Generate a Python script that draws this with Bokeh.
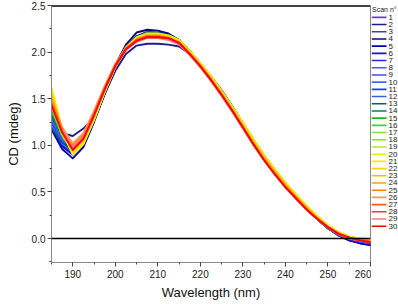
from bokeh.plotting import figure
from bokeh.models import Range1d, SingleIntervalTicker, Span, NumeralTickFormatter, ColumnDataSource
from bokeh.layouts import row
from bokeh.core.properties import value
from bokeh.embed import file_html
from bokeh.resources import INLINE

FONT = "Liberation Sans"

# wavelength grid (nm)
wavelength = [185, 187.5, 190, 192.5, 195, 197.5, 200, 202.5, 205, 207.5, 210,
              212.5, 215, 217.5, 220, 222.5, 225, 227.5, 230, 232.5, 235, 237.5,
              240, 242.5, 245, 247.5, 250, 252.5, 255, 257.5, 260]

# CD signal (mdeg) for each successive scan
scan_01 = [1.20, 1.06, 0.98, 1.08, 1.31, 1.58, 1.84, 2.03, 2.13, 2.17, 2.17, 2.15, 2.10, 1.99, 1.86, 1.72, 1.56, 1.39, 1.21, 1.03, 0.86, 0.71, 0.57, 0.44, 0.32, 0.21, 0.12, 0.05, 0.00, -0.03, -0.05]
scan_02 = [1.22, 1.13, 1.10, 1.18, 1.30, 1.55, 1.80, 1.98, 2.07, 2.09, 2.09, 2.08, 2.06, 1.98, 1.86, 1.72, 1.57, 1.41, 1.23, 1.05, 0.88, 0.72, 0.58, 0.45, 0.33, 0.22, 0.12, 0.04, -0.01, -0.04, -0.06]
scan_03 = [1.25, 1.05, 0.95, 1.05, 1.30, 1.58, 1.85, 2.05, 2.17, 2.22, 2.21, 2.19, 2.13, 2.00, 1.87, 1.72, 1.56, 1.39, 1.21, 1.04, 0.87, 0.71, 0.57, 0.44, 0.32, 0.21, 0.11, 0.04, 0.00, -0.03, -0.05]
scan_04 = [1.18, 1.00, 0.93, 1.03, 1.29, 1.58, 1.86, 2.08, 2.21, 2.24, 2.23, 2.20, 2.13, 2.00, 1.86, 1.72, 1.56, 1.39, 1.21, 1.03, 0.86, 0.71, 0.57, 0.44, 0.32, 0.21, 0.11, 0.03, -0.02, -0.05, -0.07]
scan_05 = [1.17, 0.96, 0.86, 0.98, 1.25, 1.55, 1.84, 2.05, 2.17, 2.20, 2.20, 2.18, 2.13, 2.01, 1.88, 1.74, 1.59, 1.42, 1.24, 1.06, 0.89, 0.74, 0.59, 0.46, 0.33, 0.22, 0.12, 0.04, -0.02, -0.05, -0.07]
scan_06 = [1.20, 0.99, 0.90, 1.01, 1.27, 1.56, 1.84, 2.04, 2.15, 2.19, 2.19, 2.17, 2.12, 2.00, 1.87, 1.73, 1.57, 1.40, 1.22, 1.04, 0.87, 0.72, 0.58, 0.45, 0.32, 0.21, 0.11, 0.04, -0.01, -0.04, -0.06]
scan_07 = [1.24, 1.02, 0.92, 1.03, 1.29, 1.58, 1.85, 2.04, 2.14, 2.18, 2.18, 2.16, 2.11, 1.99, 1.86, 1.72, 1.56, 1.39, 1.21, 1.03, 0.86, 0.71, 0.57, 0.44, 0.32, 0.21, 0.11, 0.04, 0.00, -0.03, -0.05]
scan_08 = [1.28, 1.05, 0.94, 1.05, 1.30, 1.59, 1.85, 2.04, 2.13, 2.17, 2.17, 2.15, 2.10, 1.98, 1.85, 1.71, 1.55, 1.38, 1.20, 1.02, 0.85, 0.70, 0.56, 0.44, 0.32, 0.21, 0.11, 0.04, 0.00, -0.03, -0.05]
scan_09 = [1.30, 1.06, 0.95, 1.06, 1.31, 1.59, 1.85, 2.04, 2.14, 2.18, 2.18, 2.16, 2.11, 1.99, 1.85, 1.71, 1.55, 1.38, 1.20, 1.02, 0.85, 0.70, 0.56, 0.44, 0.32, 0.21, 0.11, 0.04, 0.00, -0.03, -0.05]
scan_10 = [1.22, 1.02, 0.93, 1.04, 1.30, 1.59, 1.85, 2.04, 2.13, 2.17, 2.17, 2.15, 2.10, 1.98, 1.85, 1.70, 1.54, 1.37, 1.19, 1.01, 0.84, 0.69, 0.55, 0.43, 0.31, 0.21, 0.11, 0.05, 0.00, -0.02, -0.04]
scan_11 = [1.25, 1.04, 0.94, 1.05, 1.30, 1.59, 1.85, 2.04, 2.14, 2.18, 2.18, 2.16, 2.11, 1.99, 1.85, 1.71, 1.55, 1.38, 1.20, 1.02, 0.85, 0.70, 0.56, 0.43, 0.31, 0.21, 0.11, 0.04, 0.00, -0.03, -0.05]
scan_12 = [1.27, 1.05, 0.95, 1.06, 1.31, 1.59, 1.85, 2.03, 2.13, 2.17, 2.17, 2.15, 2.10, 1.98, 1.85, 1.71, 1.55, 1.38, 1.20, 1.02, 0.85, 0.70, 0.56, 0.43, 0.31, 0.21, 0.11, 0.04, 0.00, -0.03, -0.05]
scan_13 = [1.18, 1.03, 0.96, 1.06, 1.31, 1.59, 1.85, 2.04, 2.14, 2.18, 2.18, 2.16, 2.11, 1.99, 1.85, 1.71, 1.55, 1.38, 1.20, 1.02, 0.85, 0.70, 0.56, 0.43, 0.31, 0.21, 0.12, 0.05, 0.01, -0.02, -0.04]
scan_14 = [1.33, 1.10, 0.97, 1.07, 1.31, 1.59, 1.85, 2.04, 2.15, 2.19, 2.19, 2.17, 2.12, 2.00, 1.86, 1.72, 1.56, 1.39, 1.21, 1.03, 0.86, 0.71, 0.57, 0.44, 0.32, 0.22, 0.12, 0.05, 0.01, -0.02, -0.03]
scan_15 = [1.38, 1.11, 0.96, 1.06, 1.30, 1.58, 1.85, 2.05, 2.16, 2.20, 2.20, 2.18, 2.13, 2.01, 1.87, 1.73, 1.57, 1.40, 1.22, 1.04, 0.87, 0.72, 0.58, 0.45, 0.33, 0.22, 0.13, 0.06, 0.01, -0.01, -0.03]
scan_16 = [1.40, 1.11, 0.95, 1.05, 1.30, 1.58, 1.85, 2.04, 2.15, 2.19, 2.19, 2.17, 2.12, 2.00, 1.87, 1.73, 1.57, 1.40, 1.22, 1.04, 0.87, 0.72, 0.58, 0.45, 0.33, 0.22, 0.13, 0.06, 0.02, -0.01, -0.02]
scan_17 = [1.42, 1.11, 0.94, 1.04, 1.29, 1.58, 1.84, 2.04, 2.14, 2.18, 2.18, 2.17, 2.12, 2.00, 1.87, 1.73, 1.57, 1.40, 1.23, 1.05, 0.88, 0.73, 0.59, 0.46, 0.34, 0.23, 0.13, 0.06, 0.02, -0.01, -0.02]
scan_18 = [1.45, 1.12, 0.93, 1.03, 1.29, 1.58, 1.85, 2.04, 2.15, 2.19, 2.19, 2.17, 2.12, 2.00, 1.87, 1.73, 1.58, 1.41, 1.23, 1.05, 0.88, 0.73, 0.59, 0.46, 0.34, 0.23, 0.14, 0.06, 0.02, -0.01, -0.02]
scan_19 = [1.48, 1.13, 0.92, 1.02, 1.28, 1.57, 1.84, 2.04, 2.14, 2.18, 2.18, 2.17, 2.12, 2.00, 1.88, 1.74, 1.58, 1.41, 1.24, 1.06, 0.89, 0.74, 0.60, 0.47, 0.35, 0.24, 0.14, 0.07, 0.02, 0.00, -0.01]
scan_20 = [1.55, 1.15, 0.90, 1.01, 1.27, 1.57, 1.84, 2.04, 2.15, 2.19, 2.19, 2.17, 2.12, 2.00, 1.88, 1.74, 1.58, 1.41, 1.24, 1.06, 0.89, 0.74, 0.60, 0.47, 0.35, 0.24, 0.14, 0.07, 0.02, 0.00, -0.01]
scan_21 = [1.62, 1.18, 0.91, 1.02, 1.28, 1.58, 1.85, 2.05, 2.16, 2.20, 2.20, 2.18, 2.13, 2.01, 1.88, 1.74, 1.58, 1.41, 1.24, 1.06, 0.89, 0.74, 0.60, 0.47, 0.35, 0.24, 0.14, 0.07, 0.02, 0.00, -0.01]
scan_22 = [1.58, 1.17, 0.93, 1.04, 1.30, 1.59, 1.86, 2.05, 2.15, 2.19, 2.19, 2.17, 2.12, 2.00, 1.87, 1.73, 1.57, 1.40, 1.23, 1.05, 0.88, 0.73, 0.59, 0.46, 0.34, 0.23, 0.13, 0.06, 0.02, -0.01, -0.02]
scan_23 = [1.52, 1.16, 0.95, 1.06, 1.31, 1.60, 1.86, 2.04, 2.14, 2.18, 2.18, 2.16, 2.11, 1.99, 1.86, 1.72, 1.56, 1.39, 1.21, 1.03, 0.87, 0.72, 0.58, 0.45, 0.33, 0.22, 0.13, 0.06, 0.01, -0.01, -0.02]
scan_24 = [1.50, 1.18, 0.99, 1.10, 1.35, 1.62, 1.87, 2.04, 2.13, 2.17, 2.17, 2.15, 2.10, 1.98, 1.85, 1.71, 1.55, 1.38, 1.20, 1.02, 0.86, 0.71, 0.57, 0.44, 0.32, 0.22, 0.12, 0.05, 0.01, -0.01, -0.02]
scan_25 = [1.48, 1.19, 1.01, 1.12, 1.36, 1.63, 1.87, 2.04, 2.13, 2.17, 2.17, 2.15, 2.10, 1.98, 1.85, 1.70, 1.54, 1.37, 1.19, 1.01, 0.85, 0.70, 0.56, 0.44, 0.32, 0.21, 0.12, 0.05, 0.01, -0.02, -0.03]
scan_26 = [1.46, 1.19, 1.02, 1.13, 1.37, 1.63, 1.87, 2.03, 2.12, 2.16, 2.16, 2.14, 2.09, 1.97, 1.84, 1.70, 1.54, 1.37, 1.19, 1.01, 0.85, 0.70, 0.56, 0.43, 0.31, 0.21, 0.12, 0.05, 0.01, -0.02, -0.03]
scan_27 = [1.45, 1.16, 0.97, 1.09, 1.34, 1.61, 1.86, 2.03, 2.13, 2.17, 2.17, 2.15, 2.10, 1.98, 1.85, 1.70, 1.54, 1.37, 1.19, 1.01, 0.84, 0.69, 0.55, 0.43, 0.31, 0.21, 0.12, 0.05, 0.01, -0.02, -0.03]
scan_28 = [1.44, 1.15, 0.96, 1.08, 1.33, 1.60, 1.85, 2.03, 2.12, 2.16, 2.16, 2.14, 2.09, 1.97, 1.84, 1.70, 1.54, 1.37, 1.19, 1.01, 0.84, 0.69, 0.55, 0.43, 0.31, 0.21, 0.12, 0.05, 0.00, -0.02, -0.04]
scan_29 = [1.42, 1.16, 0.98, 1.09, 1.33, 1.60, 1.85, 2.02, 2.11, 2.15, 2.15, 2.13, 2.08, 1.97, 1.84, 1.69, 1.53, 1.36, 1.18, 1.00, 0.84, 0.69, 0.55, 0.43, 0.31, 0.21, 0.12, 0.05, 0.00, -0.02, -0.04]
scan_30 = [1.43, 1.14, 0.95, 1.07, 1.32, 1.60, 1.85, 2.03, 2.12, 2.16, 2.16, 2.15, 2.10, 1.98, 1.85, 1.70, 1.54, 1.37, 1.19, 1.01, 0.84, 0.69, 0.55, 0.43, 0.31, 0.21, 0.12, 0.05, 0.01, -0.02, -0.04]

scans = [scan_01, scan_02, scan_03, scan_04, scan_05, scan_06, scan_07, scan_08,
         scan_09, scan_10, scan_11, scan_12, scan_13, scan_14, scan_15, scan_16,
         scan_17, scan_18, scan_19, scan_20, scan_21, scan_22, scan_23, scan_24,
         scan_25, scan_26, scan_27, scan_28, scan_29, scan_30]

scan_labels = [str(i) for i in range(1, 31)]

scan_colors = ["#6a3fc4", "#1c1c8a", "#3f3fa8", "#0a0a80", "#0000b0", "#1414c8",
               "#2a2ad8", "#5555e0", "#4a4af0", "#3a6cff", "#1f3fe0", "#3d5ae8",
               "#0a5a80", "#0a8040", "#10c010", "#40d040", "#80e040", "#90e020",
               "#b8e030", "#e8f000", "#f5f000", "#f0d800", "#f0c000", "#ffa500",
               "#ff8000", "#ff9a50", "#ff5a10", "#ff3a10", "#ff7a7a", "#ff0000"]

# ---- main spectrum panel ----
p = figure(width=371, height=304, output_backend="svg", toolbar_location=None,
           x_range=Range1d(185, 260), y_range=Range1d(-0.257, 2.5),
           min_border_left=51, min_border_right=1, min_border_top=5, min_border_bottom=42)
p.background_fill_color = "white"
p.border_fill_color = "white"
p.grid.visible = False
p.outline_line_color = "#888888"
p.outline_line_width = 1

for ys, col in zip(scans, scan_colors):
    p.line(wavelength, ys, line_color=col, line_width=1.9, line_join="round")

p.add_layout(Span(location=0, dimension="width", line_color="black", line_width=1.5))
p.add_layout(Span(location=2.5, dimension="width", line_color="black", line_width=2.5))

p.xaxis.ticker = SingleIntervalTicker(interval=10, num_minor_ticks=2)
p.yaxis.ticker = SingleIntervalTicker(interval=0.5, num_minor_ticks=2)
p.yaxis.formatter = NumeralTickFormatter(format="0.0")
p.xaxis.axis_label = "Wavelength (nm)"
p.yaxis.axis_label = "CD (mdeg)"
for ax in (p.xaxis, p.yaxis):
    ax.axis_line_color = "#888888"
    ax.major_tick_line_color = "#444444"
    ax.minor_tick_line_color = "#444444"
    ax.major_tick_out = 4
    ax.major_tick_in = 0
    ax.minor_tick_out = 2
    ax.minor_tick_in = 0
    ax.major_label_text_font = FONT
    ax.major_label_text_font_size = "10px"
    ax.major_label_text_color = "#222222"
    ax.axis_label_text_font = FONT
    ax.axis_label_text_font_size = "13px"
    ax.axis_label_text_font_style = "normal"
    ax.axis_label_text_color = "#111111"
p.xaxis.major_label_standoff = 3
p.xaxis.axis_label_standoff = 4
p.yaxis.major_label_standoff = 2
p.yaxis.axis_label_standoff = 8

# ---- legend panel ----
n_rows = len(scan_labels)
leg = figure(width=27, height=304, output_backend="svg", toolbar_location=None,
             x_axis_type=None, y_axis_type=None,
             x_range=Range1d(0, 27), y_range=Range1d(35.04, -0.643),
             min_border=0)
leg.outline_line_color = None
leg.grid.visible = False
leg.background_fill_color = "white"
leg.border_fill_color = "white"

rows = list(range(1, n_rows + 1))
src = ColumnDataSource(dict(y=rows, color=scan_colors, label=scan_labels,
                            x0=[0] * n_rows, x1=[15] * n_rows, xt=[17] * n_rows))
leg.segment(x0="x0", y0="y", x1="x1", y1="y", line_color="color", line_width=1.6, source=src)
leg.text(x="xt", y="y", text="label", source=src, text_font=value(FONT),
         text_font_size="8px", text_baseline="middle", text_color="#222222")
leg.text(x=[0.5], y=[-0.12], text=["Scan n°"], text_font=value(FONT),
         text_font_size="7px", text_baseline="middle", text_color="#222222")

layout = row(p, leg, spacing=0)
open("out.html", "w").write(file_html(layout, INLINE))
